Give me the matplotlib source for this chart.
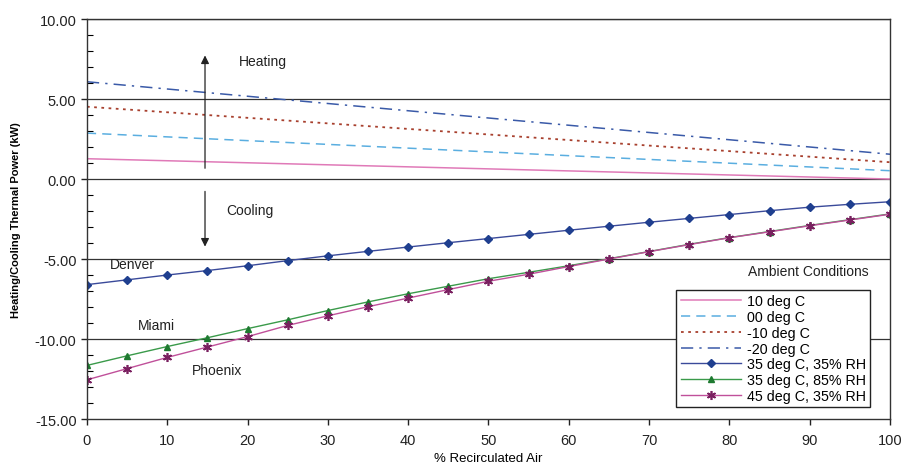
import matplotlib
matplotlib.use("Agg")
import matplotlib.pyplot as plt
from matplotlib.ticker import MultipleLocator, FormatStrFormatter

plt.rcParams['font.family'] = ['Liberation Sans', 'DejaVu Sans']

# heating cases: straight lines between 0 % and 100 % recirculation
heat_x = [0, 100]
heat_10c = [1.27, 0.0]
heat_00c = [2.87, 0.52]
heat_m10c = [4.52, 1.05]
heat_m20c = [6.08, 1.55]

# cooling cases, read every 5 %
cool_x = list(range(0, 101, 5))
denver = [-6.6, -6.3, -6.0, -5.72, -5.42, -5.1, -4.8, -4.52, -4.25, -3.98, -3.72,
          -3.46, -3.2, -2.95, -2.7, -2.46, -2.22, -1.98, -1.76, -1.58, -1.42]
miami = [-11.65, -11.05, -10.47, -9.92, -9.35, -8.8, -8.22, -7.68, -7.17, -6.7, -6.23,
         -5.83, -5.42, -4.98, -4.53, -4.08, -3.66, -3.28, -2.9, -2.54, -2.18]
phoenix = [-12.55, -11.85, -11.15, -10.5, -9.85, -9.15, -8.55, -7.98, -7.44, -6.91, -6.39,
           -5.95, -5.47, -5.0, -4.54, -4.1, -3.67, -3.3, -2.92, -2.56, -2.2]

fig = plt.figure(figsize=(9.04, 4.64), dpi=100)
ax = fig.add_axes([0.0962, 0.0948, 0.8883, 0.862])

ax.plot(heat_x, heat_10c, color='#e07ab8', lw=1.1, label='10 deg C')
ax.plot(heat_x, heat_00c, color='#5aaee0', lw=1.1, ls=(0, (6, 4)), label='00 deg C')
ax.plot(heat_x, heat_m10c, color='#a8402e', lw=1.3, ls=(0, (1.5, 2.5)), label='-10 deg C')
ax.plot(heat_x, heat_m20c, color='#3a5aa8', lw=1.1, ls=(0, (8, 4, 1.5, 4)), label='-20 deg C')

ax.plot(cool_x, denver, color='#3a4a9a', lw=1.0, marker='D', ms=3.6,
        mfc='#1f3f8f', mec='#1f3f8f', label='35 deg C, 35% RH')
ax.plot(cool_x, miami, color='#3a9a4a', lw=1.0, marker='^', ms=5,
        mfc='#1e7a30', mec='#1e7a30', label='35 deg C, 85% RH')
ax.plot(cool_x, phoenix, color='#c0509a', lw=1.0, marker=(6, 2, 0), ms=6.5, mew=1.2,
        mec='#7a2060', label='45 deg C, 35% RH')

for g in [10, 5, 0, -5, -10]:
    ax.axhline(g, color='#333333', lw=0.9, zorder=0)

ax.set_xlim(0, 100)
ax.set_ylim(-15, 10)
ax.xaxis.set_major_locator(MultipleLocator(10))
ax.yaxis.set_major_locator(MultipleLocator(5))
ax.yaxis.set_minor_locator(MultipleLocator(1))
ax.yaxis.set_major_formatter(FormatStrFormatter('%.2f'))
ax.tick_params(axis='both', which='major', labelsize=10.5, direction='out', length=4,
               width=1, colors='#222222')
ax.tick_params(axis='y', which='minor', direction='in', length=4, width=0.8)
ax.tick_params(axis='x', pad=6)
for s in ax.spines.values():
    s.set_color('#333333')
    s.set_linewidth(1.0)

ax.set_xlabel('% Recirculated Air', fontsize=9.5, labelpad=4)
ax.set_ylabel('Heating/Cooling Thermal Power (kW)', fontsize=8, fontweight='bold', labelpad=10)

# heating / cooling arrows and site labels
ax.annotate('', xy=(14.7, 7.9), xytext=(14.7, 0.5),
            arrowprops=dict(arrowstyle='-|>', color='#222222', lw=0.9, mutation_scale=12))
ax.annotate('', xy=(14.7, -4.4), xytext=(14.7, -0.6),
            arrowprops=dict(arrowstyle='-|>', color='#222222', lw=0.9, mutation_scale=12))
ax.text(21.9, 7.4, 'Heating', fontsize=10, ha='center', va='center', color='#222222')
ax.text(20.3, -1.95, 'Cooling', fontsize=10, ha='center', va='center', color='#222222')
ax.text(5.6, -5.3, 'Denver', fontsize=10, ha='center', va='center', color='#222222')
ax.text(8.7, -9.1, 'Miami', fontsize=10, ha='center', va='center', color='#222222')
ax.text(16.2, -11.95, 'Phoenix', fontsize=10, ha='center', va='center', color='#222222')

ax.text(0.973, 0.37, 'Ambient Conditions', transform=ax.transAxes, fontsize=10,
        ha='right', va='center', color='#222222')
leg = ax.legend(loc='upper right', bbox_to_anchor=(0.984, 0.34), fontsize=10.3,
                frameon=True, fancybox=False, edgecolor='#222222', framealpha=1,
                borderpad=0.3, labelspacing=0.12, handlelength=4.2, handletextpad=0.4)
leg.get_frame().set_linewidth(1.0)

fig.savefig('out.png', dpi=100)
